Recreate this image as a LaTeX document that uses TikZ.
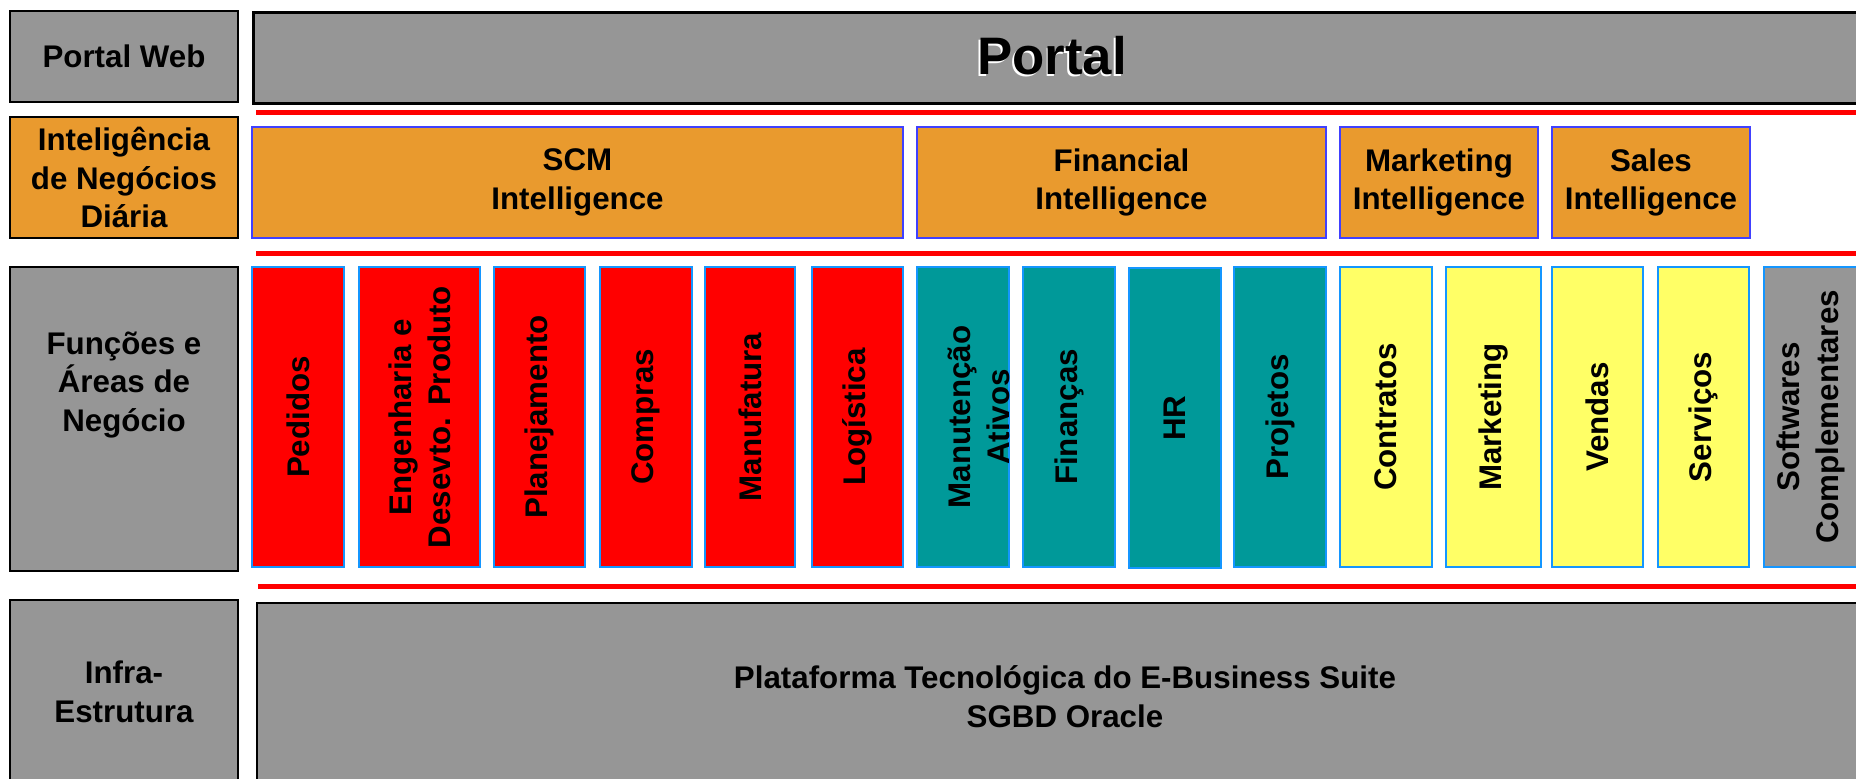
\documentclass[tikz,border=0pt]{standalone}
\usepackage{fontspec}
\setmainfont{Liberation Sans}
\newlength\px
\setlength\px{0.01cm}
\definecolor{boxgrey}{RGB}{150,150,150}
\definecolor{biorange}{RGB}{233,154,46}
\definecolor{biblue}{RGB}{64,64,255}
\definecolor{fnred}{RGB}{255,0,0}
\definecolor{fnteal}{RGB}{0,153,153}
\definecolor{fnyellow}{RGB}{255,255,102}
\definecolor{fnborder}{RGB}{20,150,255}
\tikzset{
  lbl/.style={font=\fontsize{8.9}{11}\selectfont\bfseries, align=center},
  leftbox/.style={lbl, draw=black, line width=0.75pt, minimum width=228\px, inner sep=0pt},
  bibox/.style={lbl, draw=biblue, fill=biorange, line width=0.6pt, minimum height=111\px, inner sep=0pt},
  fnbox/.style={lbl, draw=fnborder, line width=0.6pt, rotate=90, minimum width=300\px, inner sep=0pt},
  bigbox/.style={draw=black, fill=boxgrey, line width=0.75pt, inner sep=0pt},
  portaltxt/.style={font=\fontsize{15}{18}\selectfont\bfseries},
  sepline/.style={fnred, line width=5\px},
}
\begin{document}
\begin{tikzpicture}[x=0.01cm, y=-0.01cm]
  \useasboundingbox (0,0) rectangle (1856,778);
  \clip (0,0) rectangle (1856,778);

  \node[leftbox, fill=boxgrey, minimum height=91\px] (portalweb) at (124,56.5) {Portal Web};
  \node[leftbox, fill=biorange, minimum height=121\px] (bidiaria) at (124,177.5) {Inteligência\\de Negócios\\Diária};
  \node[leftbox, fill=boxgrey, minimum height=304\px] (funcoes) at (124,419) {};
  \node[lbl] (funcoestxt) at (124,385) {Funções e\\Áreas de\\Negócio};
  \node[leftbox, fill=boxgrey, minimum height=184\px] (infra) at (124,692) {Infra-\\Estrutura};

  \node[bigbox, anchor=north west, minimum width=1700\px, minimum height=91\px] (portal) at (252,11) {};
  \node[portaltxt, white] (portalshadow) at (1050.5,57.5) {Portal};
  \node[portaltxt] (portaltitle) at (1052,56) {Portal};

  \draw[sepline] (256,112) -- (1860,112);
  \draw[sepline] (256,253) -- (1860,253);
  \draw[sepline] (258,586) -- (1860,586);

  \node[bibox, minimum width=651\px] (scm) at (577.5,182.5) {SCM\\Intelligence};
  \node[bibox, minimum width=409\px] (financial) at (1121.5,182.5) {Financial\\Intelligence};
  \node[bibox, minimum width=198\px] (marketingbi) at (1439,182.5) {Marketing\\Intelligence};
  \node[bibox, minimum width=198\px] (salesbi) at (1651,182.5) {Sales\\Intelligence};

  \node[fnbox, fill=fnred, minimum height=92\px] (pedidos) at (298,417) {Pedidos};
  \node[fnbox, fill=fnred, minimum height=121\px] (engenharia) at (419.5,417) {Engenharia e\\Desevto. Produto};
  \node[fnbox, fill=fnred, minimum height=91\px] (planejamento) at (539.5,417) {Planejamento};
  \node[fnbox, fill=fnred, minimum height=92\px] (compras) at (646,417) {Compras};
  \node[fnbox, fill=fnred, minimum height=90\px] (manufatura) at (750,417) {Manufatura};
  \node[fnbox, fill=fnred, minimum height=91\px] (logistica) at (857.5,417) {Logística};
  \node[fnbox, fill=fnteal, minimum height=92\px] (manutencao) at (963,417) {};
  \node[lbl, rotate=90] (manutencaotxt) at (979,417) {Manutenção\\Ativos};
  \node[fnbox, fill=fnteal, minimum height=92\px] (financas) at (1069,417) {Finanças};
  \node[fnbox, fill=fnteal, minimum height=92\px] (hr) at (1175,418) {HR};
  \node[fnbox, fill=fnteal, minimum height=92\px] (projetos) at (1280,417) {Projetos};
  \node[fnbox, fill=fnyellow, minimum height=92\px] (contratos) at (1386,417) {Contratos};
  \node[fnbox, fill=fnyellow, minimum height=95\px] (marketing) at (1493.5,417) {Marketing};
  \node[fnbox, fill=fnyellow, minimum height=91\px] (vendas) at (1597.5,417) {Vendas};
  \node[fnbox, fill=fnyellow, minimum height=91\px] (servicos) at (1703.5,417) {Serviços};
  \node[fnbox, fill=boxgrey, minimum height=94\px] (softwares) at (1811,417) {Softwares\\Complementares};

  \node[bigbox, lbl, minimum width=1616\px, minimum height=187\px] (plataforma) at (1065,696.5) {Plataforma Tecnológica do E-Business Suite\\SGBD Oracle};
\end{tikzpicture}
\end{document}
